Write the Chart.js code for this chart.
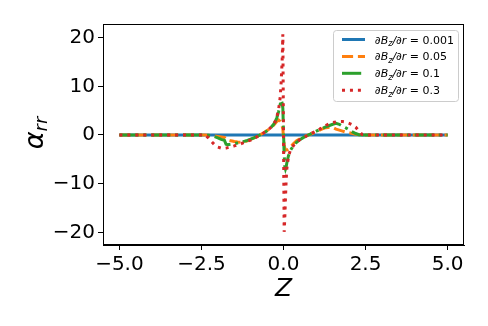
<!DOCTYPE html>
<html>
<head>
<meta charset="utf-8">
<script src="https://cdn.jsdelivr.net/npm/chart.js@4"></script>
<style>
    html, body { margin: 0; padding: 0; background: #fff; }
    #wrap { width: 488px; height: 326px; }
</style>
</head>
<body>
<div id="wrap"><canvas id="alphaChart" width="488" height="326"></canvas></div>
<script>
// Z positions shared by every series
const zValues = [
    -5, -2.6, -2.4, -2.3, -2.2, -2.1, -2.0, -1.9, -1.8, -1.75,
    -1.7, -1.6, -1.5, -1.4, -1.3, -1.2, -1.1, -1.0, -0.9, -0.8,
    -0.7, -0.6, -0.5, -0.4, -0.3, -0.25, -0.2, -0.15, -0.1, -0.07,
    -0.04, -0.02, 0.02, 0.04, 0.06, 0.08, 0.1, 0.15, 0.2, 0.3,
    0.4, 0.5, 0.6, 0.7, 0.8, 0.9, 1.0, 1.1, 1.2, 1.3,
    1.4, 1.5, 1.6, 1.7, 1.8, 1.9, 2.0, 2.1, 2.2, 2.3,
    2.4, 2.5, 2.6, 5
];

// alpha_rr for dBz/dr = 0.001
const alpha001 = [
    0, 0, 0, 0, 0, 0, 0, 0, 0, 0,
    0, 0, 0, 0, 0, 0, 0, 0, 0, 0,
    0, 0, 0, 0, 0, 0, 0, 0, 0, 0,
    0, 0, 0, 0, 0, 0, 0, 0, 0, 0,
    0, 0, 0, 0, 0, 0, 0, 0, 0, 0,
    0, 0, 0, 0, 0, 0, 0, 0, 0, 0,
    0, 0, 0, 0
];

// dBz/dr = 0.05
const alpha005 = [
    0, 0, 0, -0.05, -0.1, -0.2, -0.3, -0.4, -0.5, -0.9,
    -1.0, -1.2, -1.35, -1.45, -1.5, -1.4, -1.2, -0.9, -0.6, -0.3,
    0.1, 0.45, 0.9, 1.4, 2.0, 2.4, 2.8, 3.1, 2.8, 2.3,
    1.8, 1.2, -2.0, -2.7, -3.0, -3.1, -3.1, -2.9, -2.6, -1.8,
    -1.2, -0.8, -0.45, -0.15, 0.1, 0.4, 0.7, 1.0, 1.3, 1.5,
    1.6, 1.55, 1.2, 1.0, 0.8, 0.6, 0.45, 0.3, 0.15, 0.05,
    0, 0, 0, 0
];

// dBz/dr = 0.1
const alpha01 = [
    0, 0, 0, -0.05, -0.15, -0.35, -0.6, -0.9, -1.1, -1.9,
    -2.0, -1.9, -1.8, -1.65, -1.5, -1.3, -1.1, -0.85, -0.6, -0.3,
    0.05, 0.4, 0.85, 1.4, 2.2, 2.8, 3.6, 4.8, 6.3, 7.2,
    6.5, 5.5, -4.0, -6.5, -7.0, -6.6, -5.8, -4.3, -3.3, -2.2,
    -1.5, -0.95, -0.55, -0.2, 0.15, 0.45, 0.8, 1.1, 1.4, 1.7,
    1.95, 2.2, 2.4, 2.2, 1.8, 1.45, 1.05, 0.65, 0.3, 0.05,
    0, 0, 0, 0
];

// dBz/dr = 0.3
const alpha03 = [
    0, 0, 0, -0.5, -1.3, -2.0, -2.5, -2.7, -2.75, -2.7,
    -2.6, -2.45, -2.25, -2.0, -1.8, -1.55, -1.3, -1.05, -0.7, -0.35,
    0.05, 0.45, 0.9, 1.45, 2.2, 2.8, 3.8, 5.2, 7.8, 11.0,
    15.5, 20.7, -19.9, -17.0, -13.0, -9.5, -7.0, -4.5, -3.3, -2.2,
    -1.5, -0.95, -0.55, -0.2, 0.15, 0.5, 0.85, 1.2, 1.6, 2.0,
    2.3, 2.55, 2.7, 2.75, 2.75, 2.65, 2.4, 2.1, 1.6, 0.8,
    0.1, 0, 0, 0
];

const gradientValues = ['0.001', '0.05', '0.1', '0.3'];
const xTicks = [-5, -2.5, 0, 2.5, 5];
const yTicks = [-20, -10, 0, 10, 20];

const FONT = '"DejaVu Sans", sans-serif';
Chart.defaults.font.family = FONT;
Chart.defaults.color = '#000';

const toPoints = ys => zValues.map((z, i) => ({ x: z, y: ys[i] }));
const minus = s => s.replace('-', '\u2212');

const series = [
    { data: alpha001, color: '#1f77b4', dash: [] },
    { data: alpha005, color: '#ff7f0e', dash: [11.1, 4.8] },
    { data: alpha01, color: '#2ca02c', dash: [19.2, 4.8, 3, 4.8] },
    { data: alpha03, color: '#d62728', dash: [3, 4.95] }
];

// frame, axis titles and the mathtext style legend
const decorPlugin = {
    id: 'decor',
    afterDraw(chart) {
        const ctx = chart.ctx;
        const a = chart.chartArea;
        ctx.save();

        ctx.strokeStyle = '#000';
        ctx.lineWidth = 1;
        ctx.setLineDash([]);
        ctx.strokeRect(Math.round(a.left) + 0.5, Math.round(a.top) + 0.5,
            Math.round(a.right - a.left) - 1, Math.round(a.bottom - a.top) - 1);

        // x title
        ctx.fillStyle = '#000';
        ctx.textAlign = 'center';
        ctx.textBaseline = 'alphabetic';
        ctx.font = 'italic 25px ' + FONT;
        ctx.fillText('Z', (a.left + a.right) / 2, 296);

        // y title: alpha with subscript rr
        ctx.save();
        ctx.translate(43, 133);
        ctx.rotate(-Math.PI / 2);
        ctx.textAlign = 'left';
        ctx.font = 'italic 27px ' + FONT;
        const wA = ctx.measureText('\u03b1').width;
        ctx.font = 'italic 18px ' + FONT;
        const wR = ctx.measureText('rr').width;
        let sx = -(wA + wR) / 2;
        ctx.font = 'italic 27px ' + FONT;
        ctx.fillText('\u03b1', sx, 0);
        ctx.font = 'italic 18px ' + FONT;
        ctx.fillText('rr', sx + wA, 4);
        ctx.restore();

        // legend
        const bx = 333.5, by = 30.5, bw = 125, bh = 71;
        ctx.beginPath();
        ctx.roundRect(bx, by, bw, bh, 3);
        ctx.fillStyle = 'rgba(255,255,255,0.8)';
        ctx.fill();
        ctx.strokeStyle = '#cccccc';
        ctx.stroke();

        chart.data.datasets.forEach((ds, i) => {
            const y = 39.5 + i * 16.9;
            ctx.beginPath();
            ctx.strokeStyle = ds.borderColor;
            ctx.lineWidth = 3;
            ctx.lineCap = 'butt';
            ctx.setLineDash(ds.borderDash);
            ctx.moveTo(342, y);
            ctx.lineTo(365, y);
            ctx.stroke();
            ctx.setLineDash([]);

            ctx.fillStyle = '#000';
            ctx.textAlign = 'left';
            const base = y + 4;
            let tx = 375;
            ctx.font = 'italic 11px ' + FONT;
            ctx.fillText('\u2202B', tx, base);
            tx += ctx.measureText('\u2202B').width;
            ctx.font = 'italic 8px ' + FONT;
            ctx.fillText('z', tx, base + 2.5);
            tx += ctx.measureText('z').width;
            ctx.font = 'italic 11px ' + FONT;
            ctx.fillText('/\u2202r', tx, base);
            tx += ctx.measureText('/\u2202r').width;
            ctx.font = '11px ' + FONT;
            ctx.fillText(' = ' + gradientValues[i], tx, base);
        });

        ctx.restore();
    }
};

new Chart(document.getElementById('alphaChart'), {
    type: 'line',
    data: {
        datasets: series.map((s, i) => ({
            label: '\u2202Bz/\u2202r = ' + gradientValues[i],
            data: toPoints(s.data),
            borderColor: s.color,
            backgroundColor: s.color,
            borderWidth: 3,
            borderDash: s.dash,
            borderCapStyle: 'butt',
            pointRadius: 0,
            tension: 0,
            fill: false,
            order: series.length - i
        }))
    },
    options: {
        responsive: false,
        devicePixelRatio: 1,
        animation: false,
        layout: { padding: { top: 24, right: 24, left: 0, bottom: 0 } },
        plugins: {
            legend: { display: false },
            tooltip: { enabled: false }
        },
        scales: {
            x: {
                type: 'linear',
                min: -5.5,
                max: 5.5,
                afterBuildTicks: axis => { axis.ticks = xTicks.map(v => ({ value: v })); },
                afterFit: scale => { scale.height = 81; },
                ticks: {
                    autoSkip: false,
                    maxRotation: 0,
                    padding: 3,
                    font: { size: 20 },
                    callback: v => minus(v.toFixed(1))
                },
                grid: { drawOnChartArea: false, drawTicks: true, tickLength: 5, tickColor: '#000', tickWidth: 1 },
                border: { display: true, color: '#000', width: 1 }
            },
            y: {
                type: 'linear',
                min: -22.6,
                max: 22.8,
                afterBuildTicks: axis => { axis.ticks = yTicks.map(v => ({ value: v })); },
                afterFit: scale => { scale.width = 103; },
                ticks: {
                    autoSkip: false,
                    padding: 3,
                    font: { size: 20 },
                    callback: v => minus(String(v))
                },
                grid: { drawOnChartArea: false, drawTicks: true, tickLength: 5, tickColor: '#000', tickWidth: 1 },
                border: { display: true, color: '#000', width: 1 }
            }
        }
    },
    plugins: [decorPlugin]
});
</script>
</body>
</html>
